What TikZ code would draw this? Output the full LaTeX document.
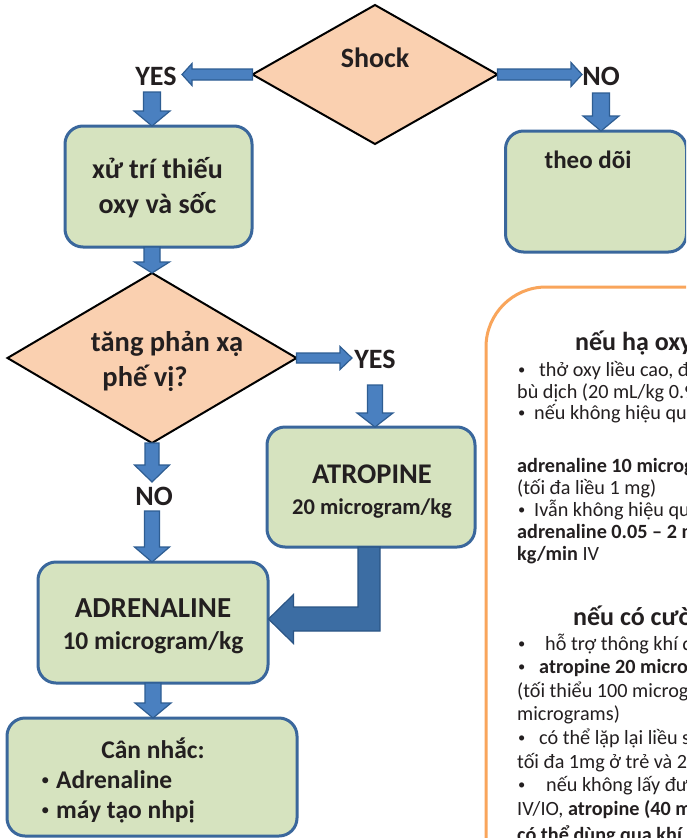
\documentclass[tikz,border=0pt]{standalone}
\usepackage{fontspec}
\setmainfont{Carlito}
\usetikzlibrary{shapes.geometric,calc}
\definecolor{boxfill}{HTML}{D6E3BF}
\definecolor{boxline}{HTML}{3A679C}
\definecolor{diafill}{HTML}{FAD0B0}
\definecolor{arrfill}{HTML}{4A80C0}
\definecolor{arrline}{HTML}{2E5D92}
\definecolor{bentfill}{HTML}{3C6DA3}
\definecolor{bentline}{HTML}{2B5585}
\definecolor{panelline}{HTML}{F9A55B}
\definecolor{txt}{HTML}{231F20}
\tikzset{
 greenbox/.style={draw=boxline, fill=boxfill, line width=3pt, rounded corners=18pt, inner sep=0pt, outer sep=0pt},
 decision/.style={draw=black, fill=diafill, line width=2pt, shape=diamond, inner sep=0pt, outer sep=0pt},
 blockarrow/.style={draw=arrline, fill=arrfill, line width=1.2pt, line join=miter},
 bentarrow/.style={draw=bentline, fill=bentfill, line width=1.2pt, line join=miter},
 lbl/.style={anchor=base, inner sep=0pt, text=txt, font=\fontsize{28}{34}\selectfont\bfseries},
 boxtxt/.style={anchor=base, inner sep=0pt, text=txt, font=\fontsize{#1}{30}\selectfont\bfseries},
 bigbullet/.style={anchor=base west, inner sep=0pt, text=txt, font=\fontsize{17}{20}\selectfont},
 body/.style={anchor=base west, inner sep=0pt, text=txt, font=\fontsize{20.2}{24}\selectfont},
 bodyb/.style={anchor=base west, inner sep=0pt, text=txt, font=\fontsize{20.2}{24}\selectfont\bfseries},
 smallbullet/.style={anchor=base west, inner sep=0pt, text=txt, font=\fontsize{14.5}{17}\selectfont},
 ptitle/.style={anchor=base west, inner sep=0pt, text=txt, font=\fontsize{26}{30}\selectfont\bfseries},
 panel/.style={draw=panelline, line width=3pt, rounded corners=60pt}
}
% downward block arrow: start, tip, shaft half width, head half width, head length
\newcommand{\myvarr}[5]{\draw[blockarrow] let \p1=(#1), \p2=(#2) in
 (\x1-#3,\y1) -- (\x1+#3,\y1) -- (\x1+#3,\y2+#5) -- (\x1+#4,\y2+#5) -- (\x1,\y2)
 -- (\x1-#4,\y2+#5) -- (\x1-#3,\y2+#5) -- cycle;}
% leftward block arrow
\newcommand{\mylarr}[5]{\draw[blockarrow] let \p1=(#1), \p2=(#2) in
 (\x1,\y1+#3) -- (\x2+#5,\y1+#3) -- (\x2+#5,\y1+#4) -- (\x2,\y1) -- (\x2+#5,\y1-#4)
 -- (\x2+#5,\y1-#3) -- (\x1,\y1-#3) -- cycle;}
% rightward block arrow
\newcommand{\myrarr}[5]{\draw[blockarrow] let \p1=(#1), \p2=(#2) in
 (\x1,\y1+#3) -- (\x2-#5,\y1+#3) -- (\x2-#5,\y1+#4) -- (\x2,\y1) -- (\x2-#5,\y1-#4)
 -- (\x2-#5,\y1-#3) -- (\x1,\y1-#3) -- cycle;}
\begin{document}
\begin{tikzpicture}[x=1pt,y=-1pt]
\useasboundingbox (0,0) rectangle (686,838);
\clip (0,0) rectangle (686,838);
\fill[white] (0,0) rectangle (686,838);

% ---------- right panel ----------
\draw[panel] (486,287) rectangle (820,1000);
\node[ptitle] (t1) at (575,350) {nếu hạ oxy máu/sốc};
\node[smallbullet] (l1b) at (518,374.5) {•};
\node[body] (l1) at (539,376) {thở oxy liều cao, đảm bảo thông khí,};
\node[body] (l2) at (517,398) {bù dịch (20 mL/kg 0.9\% NaCl)};
\node[smallbullet] (l3b) at (518,417.5) {•};
\node[body] (l3) at (534,419) {nếu không hiệu quả,};
\node[bodyb] (l4) at (517,472) {adrenaline 10 microgram/kg IV};
\node[body] (l5) at (517,494) {(tối đa liều 1 mg)};
\node[smallbullet] (l6b) at (518,514.5) {•};
\node[body] (l6) at (534,516) {Ivẫn không hiệu quả,};
\node[bodyb] (l7) at (517,538) {adrenaline 0.05 – 2 microgram/};
\node[body] (l8) at (517,560) {\bfseries kg/min\mdseries{} IV};
\node[ptitle] (t2) at (573,625) {nếu có cường phế vị};
\node[smallbullet] (m1b) at (518,648.5) {•};
\node[body] (m1) at (545,650) {hỗ trợ thông khí đầy đủ};
\node[smallbullet] (m2b) at (518,671.5) {•};
\node[bodyb] (m2) at (539,673) {atropine 20 microgram/kg};
\node[body] (m3) at (517,697) {(tối thiểu 100 microgram, tối đa 600};
\node[body] (m4) at (517,720) {micrograms)};
\node[smallbullet] (m5b) at (518,742.5) {•};
\node[body] (m5) at (539,744) {có thể lặp lại liều sau 5 phút,};
\node[body] (m6) at (517,768) {tối đa 1mg ở trẻ và 2mg ở thiếu niên};
\node[smallbullet] (m7b) at (518,789.5) {•};
\node[body] (m7) at (546,791) {nếu không lấy được đường truyền};
\node[body] (m8) at (517,815) {IV/IO, \bfseries atropine (40 microgram/kg)};
\node[bodyb] (m9) at (517,841) {có thể dùng qua khí quản};

% ---------- top decision ----------
\node[decision, minimum width=245pt, minimum height=139pt] (d1) at (375,74.5) {};
\node[lbl] (d1t) at (375,67) {Shock};
\node[lbl] (yes1) at (156,85) {YES};
\node[lbl] (no1) at (601,85) {NO};
\coordinate (yes1tip) at (182,74);
\coordinate (no1tip) at (582,74);
\mylarr{d1.west}{yes1tip}{5.5pt}{11pt}{10pt}
\myrarr{d1.east}{no1tip}{5.5pt}{12pt}{11pt}

% box 1
\node[greenbox, minimum width=187pt, minimum height=121pt] (b1) at (158.5,186.5) {};
\node[boxtxt=28] (b1a) at (157.5,178) {xử trí thiếu};
\node[boxtxt=28] (b1b) at (157.5,213) {oxy và sốc};
\coordinate (yes1out) at (152,92);
\myvarr{yes1out}{b1.north}{8.5pt}{18pt}{15pt}

% theo doi
\node[greenbox, minimum width=181pt, minimum height=121pt] (b2) at (596,191.5) {};
\node[boxtxt=25] (b2t) at (588,168) {theo dõi};
\coordinate (no1out) at (601,93);
\myvarr{no1out}{b2.north -| no1out}{8.5pt}{18pt}{15pt}

% decision 2
\node[decision, minimum width=289pt, minimum height=170pt] (d2) at (152,358) {};
\node[boxtxt=28.5] (d2a) at (167,351) {tăng phản xạ};
\node[boxtxt=28.5] (d2b) at (145,386) {phế vị?};
\myvarr{b1.south -| d2.north}{d2.north}{8pt}{17.5pt}{11pt}

% YES branch
\node[lbl] (yes2) at (375,368) {YES};
\coordinate (yes2tip) at (352,358);
\myrarr{d2.east}{yes2tip}{5pt}{11.5pt}{12pt}
\node[greenbox, minimum width=208pt, minimum height=120pt] (atr) at (371,487) {};
\node[boxtxt=28.5] (atra) at (372,483) {ATROPINE};
\node[boxtxt=22.5] (atrb) at (372,514) {20 microgram/kg};
\coordinate (yes2out) at (375,385);
\myvarr{yes2out}{atr.north -| yes2out}{7.5pt}{18pt}{14pt}

% NO branch
\node[lbl] (no2) at (154,505) {NO};
\coordinate (no2tip) at (152,482);
\myvarr{d2.south}{no2tip}{7pt}{17.5pt}{17pt}
\node[greenbox, minimum width=230pt, minimum height=121pt] (adr) at (153,622.5) {};
\node[boxtxt=29] (adra) at (153,617) {ADRENALINE};
\node[boxtxt=25.5] (adrb) at (153,649) {10 microgram/kg};
\coordinate (no2out) at (152,511);
\myvarr{no2out}{adr.north -| no2out}{7.5pt}{17.5pt}{15pt}

% bent arrow atropine -> adrenaline
\draw[bentarrow] let \p1=(atr.south), \p2=(adr.east) in
 (\x1-13pt,\y1) -- (\x1+9pt,\y1) -- (\x1+9pt,\y2-8.5pt) -- (\x2+25.5pt,\y2-8.5pt)
 -- (\x2+25.5pt,\y2-21pt) -- (\x2+0.5pt,\y2+3.5pt) -- (\x2+25.5pt,\y2+28pt)
 -- (\x2+25.5pt,\y2+15.5pt) -- (\x1-13pt,\y2+15.5pt) -- cycle;

% bottom box
\node[greenbox, minimum width=290pt, minimum height=118pt] (can) at (152,777) {};
\myvarr{adr.south}{can.north}{8pt}{18pt}{15pt}
\node[boxtxt=25.5] (cana) at (153,758) {Cân nhắc:};
\node[bigbullet] (canbb) at (41,785.5) {•};
\node[boxtxt=25.5, anchor=base west] (canb) at (56,788) {Adrenaline};
\node[bigbullet] (cancb) at (41,815.5) {•};
\node[boxtxt=25.5, anchor=base west] (canc) at (56,818) {máy tạo nhpị};
\end{tikzpicture}
\end{document}
